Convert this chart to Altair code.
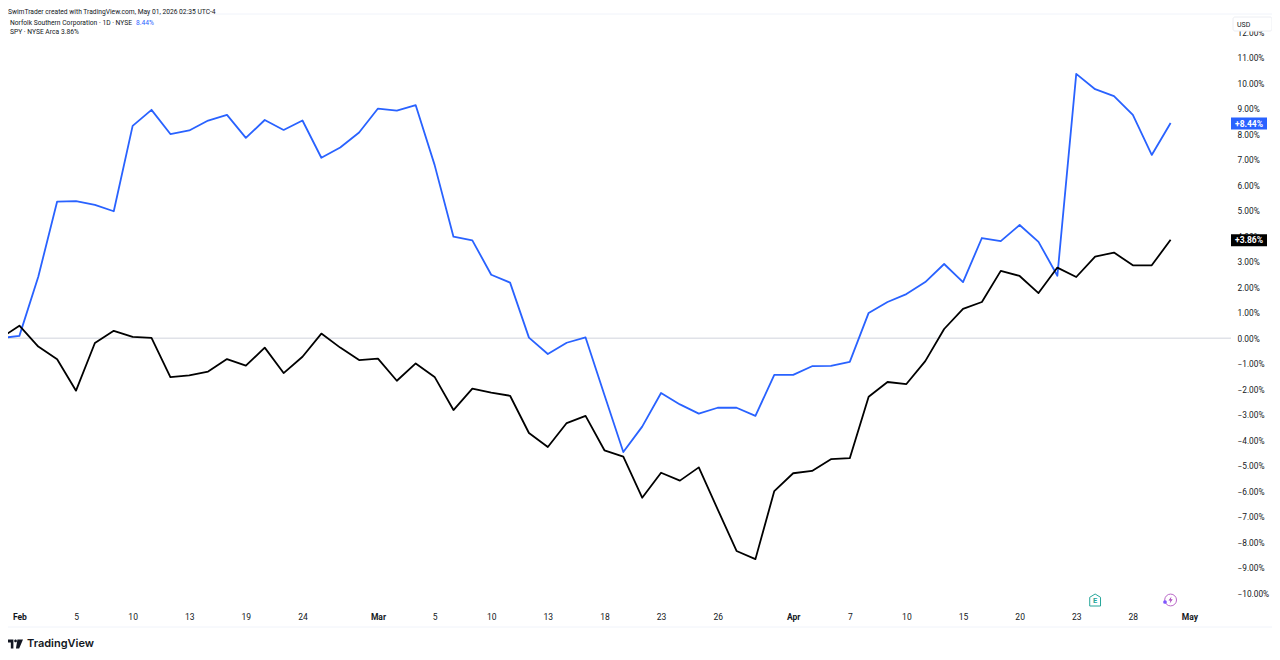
import pandas as pd
import altair as alt

# trading day index, 0 = Feb 2; -1 is the base bar, partly off the left edge
days = list(range(-1, 62))
nsc = [0.0, 0.09, 2.41, 5.36, 5.38, 5.23, 4.98, 8.33, 8.96, 8.01, 8.15, 8.54, 8.76, 7.86, 8.56, 8.17, 8.54,
       7.08, 7.48, 8.07, 9.01, 8.93, 9.14, 6.80, 3.98, 3.84, 2.49, 2.18, 0.02, -0.62, -0.18, 0.03,
       -2.23, -4.47, -3.47, -2.15, -2.60, -2.96, -2.73, -2.73, -3.05, -1.44, -1.44, -1.10, -1.09, -0.93,
       0.99, 1.42, 1.73, 2.20, 2.91, 2.20, 3.93, 3.81, 4.44, 3.78, 2.45, 10.37, 9.77, 9.50, 8.76, 7.19, 8.44]
spy = [0.0, 0.49, -0.33, -0.83, -2.06, -0.19, 0.29, 0.05, 0.01, -1.53, -1.46, -1.31, -0.82, -1.08, -0.37, -1.37, -0.73,
       0.18, -0.37, -0.86, -0.80, -1.67, -0.99, -1.52, -2.82, -1.98, -2.14, -2.26, -3.72, -4.27, -3.33, -3.05,
       -4.40, -4.65, -6.26, -5.28, -5.59, -5.07, -6.72, -8.35, -8.67, -6.00, -5.30, -5.21, -4.75, -4.71,
       -2.30, -1.72, -1.80, -0.90, 0.36, 1.15, 1.42, 2.64, 2.44, 1.77, 2.77, 2.40, 3.20, 3.36, 2.86, 2.86, 3.86]

tick_days = [0, 3, 6, 9, 12, 15, 19, 22, 25, 28, 31, 34, 37, 41, 44, 47, 50, 53, 56, 59, 62]
tick_labels = ['Feb', '5', '10', '13', '19', '24', 'Mar', '5', '10', '13', '18', '23', '26',
               'Apr', '7', '10', '15', '20', '23', '28', 'May']
month_days = [0, 19, 41, 62]
pct_ticks = list(range(-10, 13))

BLUE = '#2962ff'
TEXT = '#131722'
FONT = 'Roboto'

# plot area sits at x 8-1231, y 14-605 of the page
PW, PH = 1223, 591
x_scale = alt.Scale(domain=[-0.604, 64.2], nice=False, zero=False)
y_scale = alt.Scale(domain=[-10.47, 12.72], nice=False, zero=False)

label_map = '{' + ','.join(f"'{d}':'{l}'" for d, l in zip(tick_days, tick_labels)) + '}'
month_test = 'indexof(' + str(month_days) + ', datum.value) >= 0'

x_axis = alt.Axis(values=tick_days, labelExpr=label_map + '[datum.value]', title=None, grid=False, domain=False,
                  ticks=False, labelFont=FONT, labelFontSize=8.5, labelColor=TEXT, labelPadding=7, labelOverlap=False,
                  labelBound=False, labelFlush=False, labelAngle=0,
                  labelFontWeight=alt.condition(month_test, alt.value('bold'), alt.value('normal')))
y_axis = alt.Axis(values=pct_ticks, labelExpr="replace(format(datum.value, '.2f'), '-', '\u2212') + '%'", orient='right',
                  title=None, grid=False, domain=False, ticks=False, labelFont=FONT, labelFontSize=8.3, labelColor=TEXT,
                  labelPadding=6, labelOverlap=False, labelBound=False, labelFlush=False, tickCount=23, labelOffset=1)

frame = pd.DataFrame({'day': days, 'nsc': nsc, 'spy': spy})
last = frame.iloc[[-1]].copy()
last['nsc_label'] = '+8.44%'
last['spy_label'] = '+3.86%'


def label(txt, px, py, size=6.7, color=TEXT, weight='normal', font=FONT, align='left'):
    return alt.Chart(pd.DataFrame({'t': [txt]})).mark_text(
        align=align, baseline='middle', fontSize=size, color=color, fontWeight=weight, font=font
    ).encode(text='t:N', x=alt.value(px - 8), y=alt.value(py - 14))


def hline(py, x0, x1, color='#f0f3fa'):
    return alt.Chart(pd.DataFrame({'a': [0]})).mark_rule(color=color, strokeWidth=1).encode(
        x=alt.value(x0 - 8), x2=alt.value(x1 - 8), y=alt.value(py - 14))


base = alt.Chart(frame)
zero_line = alt.Chart(pd.DataFrame({'y': [0]})).mark_rule(color='#d1d4dc', strokeWidth=1).encode(
    y=alt.Y('y:Q', scale=y_scale, axis=y_axis))
nsc_line = base.mark_line(color=BLUE, strokeWidth=1.8, clip=True, strokeJoin='round').encode(
    x=alt.X('day:Q', scale=x_scale, axis=x_axis), y=alt.Y('nsc:Q', scale=y_scale, axis=y_axis))
spy_line = base.mark_line(color='#000000', strokeWidth=1.8, clip=True, strokeJoin='round').encode(
    x=alt.X('day:Q', scale=x_scale), y=alt.Y('spy:Q', scale=y_scale, axis=y_axis))

last_base = alt.Chart(last)
nsc_badge = last_base.mark_rect(color=BLUE, width=36, height=12, yOffset=0.5).encode(
    x=alt.value(1249 - 8), y=alt.Y('nsc:Q', scale=y_scale, axis=y_axis))
spy_badge = last_base.mark_rect(color='#000000', width=36, height=12, yOffset=0.5).encode(
    x=alt.value(1249 - 8), y=alt.Y('spy:Q', scale=y_scale, axis=y_axis))
nsc_tag = last_base.mark_text(color='white', font=FONT, fontSize=8.5, fontWeight='bold', yOffset=0.5).encode(
    x=alt.value(1249 - 8), y=alt.Y('nsc:Q', scale=y_scale, axis=y_axis), text='nsc_label:N')
spy_tag = last_base.mark_text(color='white', font=FONT, fontSize=8.5, fontWeight='bold', yOffset=0.5).encode(
    x=alt.value(1249 - 8), y=alt.Y('spy:Q', scale=y_scale, axis=y_axis), text='spy_label:N')

# USD box covers the 12% label, as in the original
usd_box = alt.Chart(pd.DataFrame({'a': [0]})).mark_rect(
    fill='white', stroke='#eceef3', cornerRadius=2, width=39, height=14
).encode(x=alt.value(1252.5 - 8), y=alt.value(24 - 14))

# earnings and dividend style markers on the time axis
E_SHAPE = 'M -0.9 -0.45 L 0 -1 L 0.9 -0.45 L 0.9 1 L -0.9 1 Z'
BOLT = 'M 0.25 -1 L -0.6 0.15 L -0.05 0.15 L -0.25 1 L 0.6 -0.2 L 0.05 -0.2 Z'
earn_icon = alt.Chart(pd.DataFrame({'day': [57]})).mark_point(
    shape=E_SHAPE, size=144, color='#26a69a', strokeWidth=1, filled=False, opacity=1
).encode(x=alt.X('day:Q', scale=x_scale), y=alt.value(600 - 14))
earn_e = alt.Chart(pd.DataFrame({'day': [57], 't': ['E']})).mark_text(
    color='#26a69a', font=FONT, fontSize=7.5, fontWeight='bold'
).encode(x=alt.X('day:Q', scale=x_scale), y=alt.value(600.5 - 14), text='t:N')
split_ring = alt.Chart(pd.DataFrame({'day': [61]})).mark_point(
    shape='circle', size=140, color='#ba68c8', strokeWidth=1, filled=False, opacity=1
).encode(x=alt.X('day:Q', scale=x_scale), y=alt.value(600 - 14))
split_bolt = alt.Chart(pd.DataFrame({'day': [61]})).mark_point(
    shape=BOLT, size=50, color='#ab47bc', filled=True, opacity=1
).encode(x=alt.X('day:Q', scale=x_scale), y=alt.value(600 - 14))
split_dot = alt.Chart(pd.DataFrame({'a': [0]})).mark_point(
    shape='circle', size=14, color='#7e57ff', filled=True, opacity=1
).encode(x=alt.value(1165 - 8), y=alt.value(602 - 14))

LOGO = ('M -1 -0.56 L -0.2 -0.56 L -0.2 0.56 L -0.52 0.56 L -0.52 -0.2 L -1 -0.2 Z '
        'M 0.3 -0.56 L 1 -0.56 L 0.52 0.56 L 0.12 0.56 Z '
        'M -0.1 -0.38 A 0.17 0.17 0 1 1 0.24 -0.38 A 0.17 0.17 0 1 1 -0.1 -0.38 Z')
logo = alt.Chart(pd.DataFrame({'a': [0]})).mark_point(
    shape=LOGO, size=256, color=TEXT, filled=True, opacity=1
).encode(x=alt.value(15 - 8), y=alt.value(644 - 14))

chart = alt.layer(
    hline(14, 8, 1272), hline(627, 8, 1272),
    zero_line, nsc_line, spy_line,
    nsc_badge, spy_badge, nsc_tag, spy_tag,
    usd_box, label('USD', 1237, 24.5, size=7),
    earn_icon, earn_e, split_ring, split_bolt, split_dot, logo,
    label('SwimTrader created with TradingView.com, May 01, 2026 02:35 UTC-4', 8, 11.5),
    label('Norfolk Southern Corporation \u00b7 1D \u00b7 NYSE', 10, 23),
    label('8.44%', 136, 23, color=BLUE),
    label('SPY \u00b7 NYSE Arca', 10, 32),
    label('3.86%', 61, 32),
    label('TradingView', 27, 644, size=11, weight=600, font='Inter'),
).resolve_scale(x='shared', y='shared').properties(
    width=PW, height=PH,
    autosize=alt.AutoSizeParams(type='none'),
    padding={'left': 0, 'top': 6, 'right': 41, 'bottom': 47},
    background='white',
).configure_view(stroke=None).configure_axis(labelOverlap=False)

chart.save("out.html", embed_options={"renderer": "svg", "actions": False})
